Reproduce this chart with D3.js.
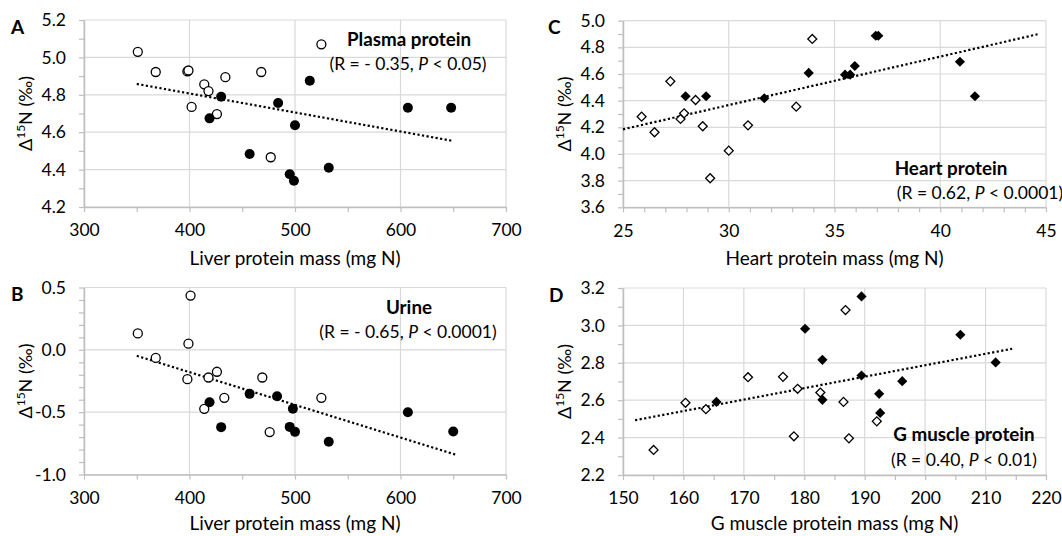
<!DOCTYPE html>
<html>
<head>
<meta charset="utf-8">
<script src="https://cdn.jsdelivr.net/npm/d3@7"></script>
<style>
    body { margin: 0; background: #ffffff; }
    svg text { font-family: Lato, "Open Sans", sans-serif; fill: #000000; }
</style>
</head>
<body>
<div id="chart"></div>
<script>

//- Panel A: plasma protein vs liver protein mass  [x, y]
const plasmaOpen = [[351, 5.03], [368, 4.922], [398, 4.925], [399, 4.93], [402, 4.735], [414, 4.856],
    [418, 4.82], [426, 4.697], [434, 4.894], [468, 4.922], [477, 4.466], [525, 5.07]];
const plasmaFilled = [[419, 4.674], [430, 4.79], [457, 4.483], [484, 4.756], [495, 4.375], [499, 4.34],
    [500, 4.637], [514, 4.875], [532, 4.41], [607, 4.731], [648, 4.731]];
const plasmaTrend = [[350, 4.858], [650, 4.553]];

//- Panel B: urine vs liver protein mass
const urineOpen = [[351, 0.132], [368, -0.065], [398, -0.235], [399, 0.049], [401, 0.435], [414, -0.473],
    [418, -0.222], [426, -0.176], [433, -0.385], [469, -0.222], [476, -0.66], [525, -0.385]];
const urineFilled = [[419, -0.42], [430, -0.62], [457, -0.353], [483, -0.372], [495, -0.618], [498, -0.473],
    [500, -0.658], [532, -0.738], [607, -0.5], [650, -0.655]];
const urineTrend = [[350, -0.048], [652, -0.84]];

//- Panel C: heart protein vs heart protein mass
const heartOpen = [[25.88, 4.28], [26.49, 4.163], [27.24, 4.545], [27.72, 4.263], [27.89, 4.305], [28.43, 4.405],
    [28.77, 4.208], [29.12, 3.818], [30.0, 4.025], [30.91, 4.215], [33.19, 4.355], [33.95, 4.863]];
const heartFilled = [[27.96, 4.433], [28.93, 4.433], [31.68, 4.418], [33.78, 4.608], [35.5, 4.595], [35.74, 4.595],
    [35.96, 4.66], [36.95, 4.887], [37.07, 4.887], [40.93, 4.692], [41.64, 4.433]];
const heartTrend = [[25.0, 4.185], [44.6, 4.898]];

//- Panel D: G muscle protein vs G muscle protein mass
const muscleOpen = [[155.06, 2.334], [160.34, 2.586], [163.72, 2.552], [170.69, 2.723], [176.48, 2.725], [178.28, 2.407],
    [178.9, 2.661], [182.66, 2.641], [186.49, 2.591], [186.82, 3.082], [187.39, 2.396], [192.0, 2.487]];
const muscleFilled = [[165.46, 2.591], [180.13, 2.982], [183.0, 2.816], [183.0, 2.602], [189.47, 3.155], [189.47, 2.732],
    [192.39, 2.634], [192.56, 2.532], [196.21, 2.702], [205.83, 2.95], [211.67, 2.802]];
const muscleTrend = [[152.0, 2.493], [214.4, 2.875]];

//- Tick labels
const liverMassTicks = [300, 400, 500, 600, 700];
const plasmaTicks = [4.2, 4.4, 4.6, 4.8, 5.0, 5.2];
const urineTicks = [-1.0, -0.5, 0.0, 0.5];
const heartMassTicks = [25, 30, 35, 40, 45];
const heartTicks = [3.6, 3.8, 4.0, 4.2, 4.4, 4.6, 4.8, 5.0];
const muscleMassTicks = [150, 160, 170, 180, 190, 200, 210, 220];
const muscleTicks = [2.2, 2.4, 2.6, 2.8, 3.0, 3.2];


const WIDTH = 1062;
const HEIGHT = 536;
const GRIDCOLOR = "#d9d9d9";
const AXISCOLOR = "#bfbfbf";
const TICKFONT = 17.5;
const TITLEFONT = 19;


function drawPanel(svg, cfg){
    /* Draws one scatter panel: grid, axes with minor ticks, points, dotted trend line and notes */

    let b = cfg.box;
    let x = d3.scaleLinear().domain(d3.extent(cfg.xTicks)).range([b.left, b.right]);
    let y = d3.scaleLinear().domain(d3.extent(cfg.yTicks)).range([b.bottom, b.top]);
    let g = svg.append("g");

    //- Gridlines
    g.append("g").selectAll("line").data(cfg.xTicks).enter().append("line")
        .attr("x1", d => x(d)).attr("x2", d => x(d))
        .attr("y1", b.top).attr("y2", b.bottom)
        .attr("stroke", GRIDCOLOR).attr("stroke-width", 1.2);
    g.append("g").selectAll("line").data(cfg.yTicks).enter().append("line")
        .attr("x1", b.left).attr("x2", b.right)
        .attr("y1", d => y(d)).attr("y2", d => y(d))
        .attr("stroke", GRIDCOLOR).attr("stroke-width", 1.2);

    //- Axes; minor ticks everywhere, labels only on major values
    let xd = x.domain(), yd = y.domain();
    let xMinor = d3.range(xd[0], xd[1] + cfg.xStep / 2, cfg.xStep);
    let yMinor = d3.range(yd[0], yd[1] + cfg.yStep / 2, cfg.yStep);
    let isMajor = (v, list) => list.some(t => Math.abs(t - v) < 1e-6);

    let xAxis = d3.axisBottom(x).tickValues(xMinor).tickSizeInner(5).tickSizeOuter(0).tickPadding(12)
        .tickFormat(v => isMajor(v, cfg.xTicks) ? cfg.xFmt(v) : "");
    let yAxis = d3.axisLeft(y).tickValues(yMinor).tickSizeInner(5).tickSizeOuter(0).tickPadding(13)
        .tickFormat(v => isMajor(v, cfg.yTicks) ? v.toFixed(1) : "");

    let gx = g.append("g").attr("transform", `translate(0, ${b.bottom})`).call(xAxis);
    let gy = g.append("g").attr("transform", `translate(${b.left}, 0)`).call(yAxis);

    [gx, gy].forEach(a => {
        a.select(".domain").attr("stroke", AXISCOLOR).attr("stroke-width", 1.5);
        a.selectAll(".tick line").attr("stroke", AXISCOLOR).attr("stroke-width", 1.2);
        a.selectAll(".tick text").attr("font-size", TICKFONT).attr("font-family", null).attr("fill", "#000");
    });

    //- Trend line
    g.append("path")
        .attr("d", d3.line().x(d => x(d[0])).y(d => y(d[1]))(cfg.trend))
        .attr("fill", "none").attr("stroke", "#000").attr("stroke-width", 2.2)
        .attr("stroke-dasharray", "2.2 2.4");

    //- Points
    let drawSet = (data, filled) => {
        if (cfg.shape == "circle"){
            g.append("g").selectAll("circle").data(data).enter().append("circle")
                .attr("cx", d => x(d[0])).attr("cy", d => y(d[1]))
                .attr("r", filled ? 5 : 4.5)
                .attr("fill", filled ? "#000" : "#fff")
                .attr("stroke", "#000").attr("stroke-width", filled ? 0 : 1.3);
        } else {
            let s = filled ? 52 : 40;
            g.append("g").selectAll("path").data(data).enter().append("path")
                .attr("d", d3.symbol().type(d3.symbolSquare).size(s)())
                .attr("transform", d => `translate(${x(d[0])}, ${y(d[1])}) rotate(45)`)
                .attr("fill", filled ? "#000" : "#fff")
                .attr("stroke", "#000").attr("stroke-width", filled ? 0 : 1.3);
        }
    };
    drawSet(cfg.open, false);
    drawSet(cfg.filled, true);

    //- Panel letter
    g.append("text").attr("x", cfg.letterX).attr("y", b.top + 13.5)
        .attr("font-size", 19).attr("font-weight", "bold").text(cfg.letter);

    //- Axis titles
    g.append("text").attr("x", (b.left + b.right) / 2).attr("y", cfg.xTitleY)
        .attr("text-anchor", "middle").attr("font-size", TITLEFONT).text(cfg.xTitle);

    let yt = g.append("text")
        .attr("transform", `translate(${cfg.yTitleX}, ${(b.top + b.bottom) / 2}) rotate(-90)`)
        .attr("text-anchor", "middle").attr("font-size", 18);
    yt.append("tspan").text("\u0394");
    yt.append("tspan").attr("font-size", 12).attr("dy", -7).text("15");
    yt.append("tspan").attr("dy", 7).text("N (\u2030)");

    //- Notes
    cfg.notes.forEach(n => {
        let t = g.append("text").attr("x", n.x).attr("y", n.y).attr("text-anchor", "middle")
            .attr("font-size", n.bold ? 18.8 : 17.5).attr("font-weight", n.bold ? "bold" : "normal");
        if (n.bold){
            t.text(n.text);
        } else {
            t.append("tspan").text("(R = " + n.r + ", ");
            t.append("tspan").attr("font-style", "italic").text("P");
            t.append("tspan").text(" < " + n.p + ")");
        }
    });
}


let svg = d3.select("#chart").append("svg")
    .attr("width", WIDTH).attr("height", HEIGHT);

let intFmt = v => String(v);

drawPanel(svg, {
    box: {left: 84, right: 506, top: 20, bottom: 207},
    xTicks: liverMassTicks, yTicks: plasmaTicks, xStep: 50, yStep: 0.1, xFmt: intFmt,
    open: plasmaOpen, filled: plasmaFilled, trend: plasmaTrend, shape: "circle",
    letter: "A", letterX: 11, yTitleX: 32, xTitle: "Liver protein mass (mg N)", xTitleY: 265,
    notes: [{text: "Plasma protein", bold: true, x: 409, y: 46},
            {r: "- 0.35", p: "0.05", x: 408, y: 70}]
});

drawPanel(svg, {
    box: {left: 84, right: 506, top: 287.5, bottom: 474.5},
    xTicks: liverMassTicks, yTicks: urineTicks, xStep: 50, yStep: 0.1, xFmt: intFmt,
    open: urineOpen, filled: urineFilled, trend: urineTrend, shape: "circle",
    letter: "B", letterX: 11, yTitleX: 32, xTitle: "Liver protein mass (mg N)", xTitleY: 530,
    notes: [{text: "Urine", bold: true, x: 409, y: 314},
            {r: "- 0.65", p: "0.0001", x: 408, y: 338}]
});

drawPanel(svg, {
    box: {left: 623, right: 1046, top: 20.7, bottom: 207.3},
    xTicks: heartMassTicks, yTicks: heartTicks, xStep: 1, yStep: 0.1, xFmt: intFmt,
    open: heartOpen, filled: heartFilled, trend: heartTrend, shape: "diamond",
    letter: "C", letterX: 548, yTitleX: 571, xTitle: "Heart protein mass (mg N)", xTitleY: 265,
    notes: [{text: "Heart protein", bold: true, x: 951, y: 175},
            {r: "0.62", p: "0.0001", x: 980, y: 199}]
});

drawPanel(svg, {
    box: {left: 623, right: 1046, top: 288, bottom: 475},
    xTicks: muscleMassTicks, yTicks: muscleTicks, xStep: 5, yStep: 0.1, xFmt: intFmt,
    open: muscleOpen, filled: muscleFilled, trend: muscleTrend, shape: "diamond",
    letter: "D", letterX: 549, yTitleX: 571, xTitle: "G muscle protein mass (mg N)", xTitleY: 530,
    notes: [{text: "G muscle protein", bold: true, x: 964, y: 441},
            {r: "0.40", p: "0.01", x: 964, y: 466}]
});

</script>
</body>
</html>
